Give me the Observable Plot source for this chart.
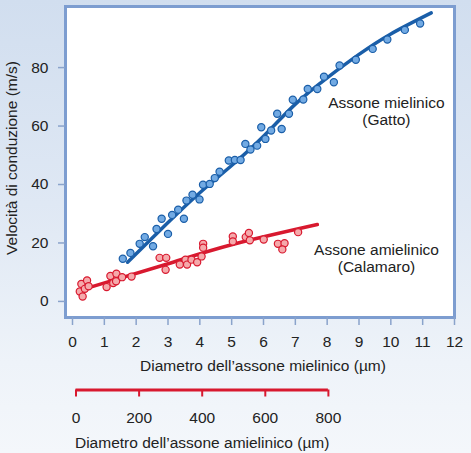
<!DOCTYPE html>
<html>
<head>
<meta charset="utf-8">
<script src="https://cdn.jsdelivr.net/npm/d3@7"></script>
<script src="https://cdn.jsdelivr.net/npm/@observablehq/plot@0.6"></script>
<style>
  html, body { margin: 0; padding: 0; }
  #wrap {
    position: relative; width: 471px; height: 453px; overflow: hidden;
    background: linear-gradient(to bottom, #d1deef 0%, #dfe8f4 45%, #eef3f9 80%, #f4f7fb 100%);
    font-family: "Liberation Sans", Arial, sans-serif;
  }
  #wrap svg, #wrap svg text { font-family: "Liberation Sans", Arial, sans-serif !important; }
  #p1 { position: absolute; left: 0; top: 0; }
  #p2 { position: absolute; left: 0; top: 380px; }
</style>
</head>
<body>
<div id="wrap"><div id="p1"></div><div id="p2"></div></div>
<script>
// Myelinated axon (cat): diameter (µm), conduction velocity (m/s)
const myelDiam = [1.58,1.82,2.11,2.27,2.53,2.64,2.80,3.00,3.13,3.32,3.50,3.58,3.77,3.99,4.10,4.31,4.47,4.62,4.91,5.10,5.28,5.43,5.59,5.80,5.93,6.06,6.24,6.43,6.57,6.80,6.92,7.25,7.39,7.69,7.90,8.21,8.39,8.90,9.43,9.89,10.44,10.92];
const myelVel  = [14.6,16.6,19.7,22.0,18.9,24.8,28.3,23.1,29.6,31.4,28.3,34.5,36.5,34.9,39.9,40.2,42.2,44.4,48.2,48.4,48.4,53.9,52.0,53.3,59.6,55.6,58.5,64.2,59.0,64.2,69.0,69.1,72.7,72.7,76.9,75.0,80.7,82.7,86.4,89.6,92.9,95.1];
// Myelinated fit line
const myelFitDiam = [1.73,3,4,5,6,7,8,9,10,11.27];
const myelFitVel  = [13.4,27,37.2,46.5,56.5,67.5,76.5,84.5,91.5,98.7];

// Unmyelinated axon (squid): diameter (µm), conduction velocity (m/s)
const unmyelDiam = [12,17,21,28,35,40,97,109,118,128,127,146,176,265,286,284,329,347,352,366,384,398,403,403,497,497,538,548,551,595,640,661,654,704];
const unmyelVel  = [3.4,6.0,1.7,4.3,7.2,5.2,4.9,8.7,6.3,9.5,6.9,8.3,8.5,14.9,14.9,10.8,12.6,14.3,12.6,14.3,13.4,15.4,19.7,18.4,22.2,20.5,22.0,23.4,20.9,21.2,19.7,19.9,17.8,23.7];
// Unmyelinated fit line
const unmyelFitDiam = [46,292,493,765];
const unmyelFitVel  = [4.9,12.9,19.4,26.3];

// Axis ticks & labels
const yTicks = [0,20,40,60,80];
const xTicks = [0,1,2,3,4,5,6,7,8,9,10,11,12];
const xTicks2 = [0,200,400,600,800];
const yLabel = "Velocità di conduzione (m/s)";
const xLabel = "Diametro dell’assone mielinico (µm)";
const xLabel2 = "Diametro dell’assone amielinico (µm)";
const annMyel = "Assone mielinico\n(Gatto)";
const annUnmyel = "Assone amielinico\n(Calamaro)";

// relation between the two diameter axes (µm of squid axon per µm of cat axon)
const UM_PER_UNIT = 100.9, UNIT_OFFSET = 0.11;
const toMain = um => um / UM_PER_UNIT + UNIT_OFFSET;

const myel = myelDiam.map((d, i) => ({d, v: myelVel[i]}));
const myelFit = myelFitDiam.map((d, i) => ({d, v: myelFitVel[i]}));
const unmyel = unmyelDiam.map((um, i) => ({d: toMain(um), v: unmyelVel[i]}));
const unmyelFit = unmyelFitDiam.map((um, i) => ({d: toMain(um), v: unmyelFitVel[i]}));

const BLUE = "#1a5ea8", BLUE_FILL = "#72aae3";
const RED = "#d8192f", RED_FILL = "#f5a9ab";
const FRAME = "#7d9dd0", TICK = "#8aa3cb", TXT = "#222";
const FS = 15.5;
const font = {fontFamily: "Liberation Sans, Arial, sans-serif", fontSize: FS + "px", background: "transparent", color: TXT};

const xDomain = [-0.22, 12];

const p1 = Plot.plot({
  width: 471, height: 380,
  marginLeft: 65, marginRight: 17, marginTop: 6, marginBottom: 63,
  style: font,
  x: {domain: xDomain},
  y: {domain: [-5.5, 100.9]},
  marks: [
    Plot.frame({fill: "white", stroke: FRAME, strokeWidth: 3}),
    Plot.axisY({ticks: yTicks, tickSize: 7, tickPadding: 10, stroke: TICK, strokeWidth: 1.5, fill: TXT, label: null, fontSize: FS}),
    Plot.axisX({ticks: xTicks, tickSize: 8, tickPadding: 10, stroke: TICK, strokeWidth: 1.5, fill: TXT, label: null, fontSize: FS}),
    Plot.text([yLabel], {frameAnchor: "left", textAnchor: "middle", rotate: -90, dx: -53, dy: -4, fill: TXT, fontSize: FS}),
    Plot.text([xLabel], {frameAnchor: "bottom", dy: 53, dx: 3, fill: TXT, fontSize: FS}),
    Plot.line(myelFit, {x: "d", y: "v", stroke: BLUE, strokeWidth: 3.5, curve: "natural"}),
    Plot.line(unmyelFit, {x: "d", y: "v", stroke: RED, strokeWidth: 3.5, curve: "natural"}),
    Plot.dot(myel, {x: "d", y: "v", r: 3.6, fill: BLUE_FILL, stroke: BLUE, strokeWidth: 1.2}),
    Plot.dot(unmyel, {x: "d", y: "v", r: 3.6, fill: RED_FILL, stroke: RED, strokeWidth: 1.2}),
    Plot.text([annMyel], {x: 9.86, y: 65.2, text: d => d, fill: TXT, fontSize: FS, lineHeight: 1.15}),
    Plot.text([annUnmyel], {x: 9.55, y: 14.9, text: d => d, fill: TXT, fontSize: FS, lineHeight: 1.15})
  ]
});
document.getElementById("p1").appendChild(p1);

const p2 = Plot.plot({
  width: 471, height: 73,
  marginLeft: 65, marginRight: 17, marginTop: 9.5, marginBottom: 56.5,
  style: font,
  x: {domain: xDomain.map(d => (d - UNIT_OFFSET) * UM_PER_UNIT), axis: null},
  y: {domain: [0, 1], axis: null},
  marks: [
    Plot.ruleY([1], {x1: xTicks2[0], x2: xTicks2[xTicks2.length - 1], stroke: RED, strokeWidth: 3}),
    Plot.ruleX(xTicks2, {x: d => d, y1: 1, y2: 0, stroke: RED, strokeWidth: 2}),
    Plot.text(xTicks2, {x: d => d, text: d => String(d), frameAnchor: "top", dy: 22, fill: TXT, fontSize: FS}),
    Plot.text([xLabel2], {x: 400, frameAnchor: "top", dy: 47, fill: TXT, fontSize: FS})
  ]
});
document.getElementById("p2").appendChild(p2);
</script>
</body>
</html>
